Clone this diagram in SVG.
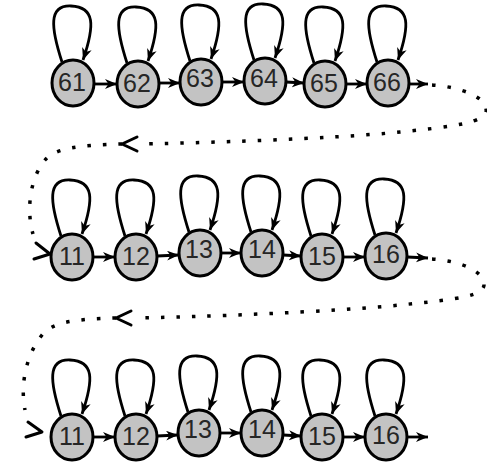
<svg xmlns="http://www.w3.org/2000/svg" width="487" height="467" viewBox="0 0 487 467">
<defs>
<marker id="ah" markerUnits="userSpaceOnUse" markerWidth="13" markerHeight="11" refX="12" refY="5" orient="auto">
<path d="M0,0 L12,5 L0,10 L3.5,5 z" fill="#000"/>
</marker>
<style>
.n ellipse{fill:#c3c3c3;stroke:#000;stroke-width:3}
.n text{font-family:"Liberation Sans",Arial,sans-serif;font-size:25px;fill:#262626;text-anchor:middle}
.e{fill:none;stroke:#000;stroke-width:2.8;marker-end:url(#ah)}
.d{fill:none;stroke:#000;stroke-width:3.5;stroke-dasharray:3.5 12}
.c{fill:none;stroke:#000;stroke-width:3;stroke-linecap:round;stroke-linejoin:round}
</style>
</defs>
<rect width="487" height="467" fill="#fff"/>
<g id="connectors">
<path class="e" d="M62,62 C51,28 48,5 71,6 C95,7 95,25 83,60"/>
<path class="e" d="M127,63 C116,29 113,6 136,7 C160,8 160,26 148,61"/>
<path class="e" d="M190,61 C179,27 176,4 199,5 C223,6 223,24 211,59"/>
<path class="e" d="M254,60 C243,26 240,3 263,4 C287,5 287,23 275,58"/>
<path class="e" d="M314,63 C303,29 300,6 323,7 C347,8 347,26 335,61"/>
<path class="e" d="M377,62 C366,28 363,5 386,6 C410,7 410,25 398,60"/>
<path class="e" d="M95,84 L117,84"/>
<path class="e" d="M159,83 L180,83"/>
<path class="e" d="M222,82 L244,82"/>
<path class="e" d="M286,82 L304,83"/>
<path class="e" d="M346,84 L367,84"/>
<path class="e" d="M409,84 L428,84"/>
<path class="e" d="M61,236 C50,202 47,179 70,180 C94,181 94,199 82,234"/>
<path class="e" d="M125,236 C114,202 111,179 134,180 C158,181 158,199 146,234"/>
<path class="e" d="M189,232 C178,198 175,175 198,176 C222,177 222,195 210,230"/>
<path class="e" d="M251,232 C240,198 237,175 260,176 C284,177 284,195 272,230"/>
<path class="e" d="M311,236 C300,202 297,179 320,180 C344,181 344,199 332,234"/>
<path class="e" d="M375,235 C364,201 361,178 384,179 C408,180 408,198 396,233"/>
<path class="e" d="M93,257 L115,257"/>
<path class="e" d="M157,256 L179,255"/>
<path class="e" d="M221,253 L241,253"/>
<path class="e" d="M283,255 L301,256"/>
<path class="e" d="M343,257 L365,257"/>
<path class="e" d="M407,257 L428,258"/>
<path class="e" d="M61,416 C50,382 47,359 70,360 C94,361 94,379 82,414"/>
<path class="e" d="M125,416 C114,382 111,359 134,360 C158,361 158,379 146,414"/>
<path class="e" d="M188,412 C177,378 174,355 197,356 C221,357 221,375 209,410"/>
<path class="e" d="M251,412 C240,378 237,355 260,356 C284,357 284,375 272,410"/>
<path class="e" d="M311,416 C300,382 297,359 320,360 C344,361 344,379 332,414"/>
<path class="e" d="M375,416 C364,382 361,359 384,360 C408,361 408,379 396,414"/>
<path class="e" d="M93,437 L115,437"/>
<path class="e" d="M157,436 L178,435"/>
<path class="e" d="M220,433 L241,433"/>
<path class="e" d="M283,435 L301,436"/>
<path class="e" d="M343,437 L365,437"/>
<path class="e" d="M407,437 L428,437"/>
<path class="d" d="M432,85 C462,87 488,98 486,111 C484,122 460,126 400,132 C330,139 200,143 140,144 M122,144 C80,145 55,148 45,160 C30,178 26,210 33,234"/>
<path class="c" d="M137,137 L122,144 L137,151"/>
<path class="c" d="M36,243 L50,254 L34,259"/>
<path class="d" d="M432,259 C462,261 485,272 484,285 C483,296 460,299 400,305 C330,312 200,317 134,318 M116,318 C75,319 52,322 42,335 C26,355 20,385 25,410"/>
<path class="c" d="M131,311 L116,318 L131,325"/>
<path class="c" d="M28,422 L42,432 L26,437"/>
</g>
<g id="n61" class="n"><ellipse cx="73" cy="83" rx="21" ry="23"/><text x="72" y="91">61</text></g>
<g id="n62" class="n"><ellipse cx="138" cy="84" rx="21" ry="23"/><text x="137" y="92">62</text></g>
<g id="n63" class="n"><ellipse cx="201" cy="82" rx="21" ry="23"/><text x="200" y="87">63</text></g>
<g id="n64" class="n"><ellipse cx="265" cy="81" rx="21" ry="23"/><text x="264" y="87">64</text></g>
<g id="n65" class="n"><ellipse cx="325" cy="84" rx="21" ry="23"/><text x="324" y="92">65</text></g>
<g id="n66" class="n"><ellipse cx="388" cy="83" rx="21" ry="23"/><text x="387" y="91">66</text></g>
<g id="r2n11" class="n"><ellipse cx="72" cy="257" rx="21" ry="23"/><text x="72" y="265">11</text></g>
<g id="r2n12" class="n"><ellipse cx="136" cy="257" rx="21" ry="23"/><text x="136" y="265">12</text></g>
<g id="r2n13" class="n"><ellipse cx="200" cy="253" rx="21" ry="23"/><text x="199" y="258">13</text></g>
<g id="r2n14" class="n"><ellipse cx="262" cy="253" rx="21" ry="23"/><text x="262" y="258">14</text></g>
<g id="r2n15" class="n"><ellipse cx="322" cy="257" rx="21" ry="23"/><text x="322" y="265">15</text></g>
<g id="r2n16" class="n"><ellipse cx="386" cy="256" rx="21" ry="23"/><text x="386" y="263">16</text></g>
<g id="r3n11" class="n"><ellipse cx="72" cy="437" rx="21" ry="23"/><text x="72" y="445">11</text></g>
<g id="r3n12" class="n"><ellipse cx="136" cy="437" rx="21" ry="23"/><text x="136" y="445">12</text></g>
<g id="r3n13" class="n"><ellipse cx="199" cy="433" rx="21" ry="23"/><text x="198" y="438">13</text></g>
<g id="r3n14" class="n"><ellipse cx="262" cy="433" rx="21" ry="23"/><text x="262" y="438">14</text></g>
<g id="r3n15" class="n"><ellipse cx="322" cy="437" rx="21" ry="23"/><text x="322" y="445">15</text></g>
<g id="r3n16" class="n"><ellipse cx="386" cy="437" rx="21" ry="23"/><text x="386" y="444">16</text></g>
</svg>
